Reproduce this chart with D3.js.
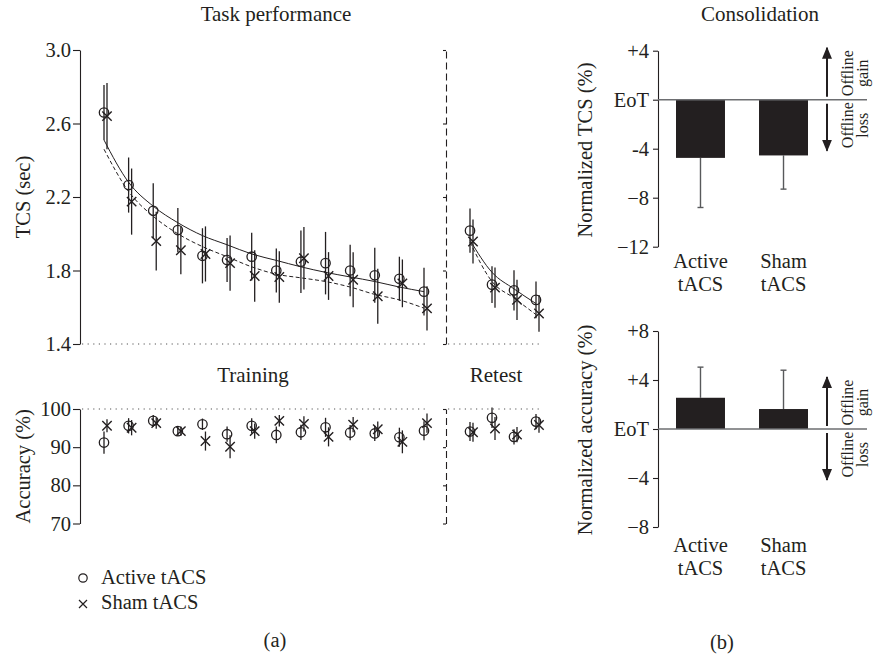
<!DOCTYPE html>
<html>
<head>
<meta charset="utf-8">
<script src="https://cdn.jsdelivr.net/npm/d3@7"></script>
<style>
  body { margin: 0; background: #fff; }
  text { font-family: "Liberation Serif", "Times New Roman", serif; fill: #231f20; }
</style>
</head>
<body>
<div id="chart"></div>
<script>
// ---- data ----
const trainBlocks = [1, 2, 3, 4, 5, 6, 7, 8, 9, 10, 11, 12, 13, 14];
const retestBlocks = [1, 2, 3, 4];
const tcsTicks = [1.4, 1.8, 2.2, 2.6, 3.0];
const accTicks = [70, 80, 90, 100];

const tcsActive = [2.66, 2.265, 2.125, 2.02, 1.88, 1.857, 1.875, 1.80, 1.848, 1.84, 1.80, 1.774, 1.755, 1.685];
const tcsActiveErr = [0.15, 0.15, 0.15, 0.12, 0.15, 0.12, 0.13, 0.12, 0.17, 0.17, 0.14, 0.15, 0.12, 0.13];
const tcsSham = [2.64, 2.175, 1.96, 1.91, 1.89, 1.84, 1.77, 1.765, 1.867, 1.77, 1.75, 1.66, 1.73, 1.594];
const tcsShamErr = [0.18, 0.18, 0.16, 0.13, 0.15, 0.15, 0.14, 0.14, 0.17, 0.13, 0.15, 0.15, 0.13, 0.12];

const tcsRetestActive = [2.017, 1.723, 1.692, 1.64];
const tcsRetestActiveErr = [0.12, 0.10, 0.11, 0.10];
const tcsRetestSham = [1.958, 1.707, 1.64, 1.566];
const tcsRetestShamErr = [0.12, 0.11, 0.11, 0.10];

// fitted curves as drawn
const fitTrainActive = [2.51, 2.28, 2.15, 2.06, 1.99, 1.94, 1.89, 1.855, 1.82, 1.79, 1.765, 1.74, 1.71, 1.685];
const fitTrainSham = [2.46, 2.23, 2.095, 2.0, 1.93, 1.875, 1.82, 1.78, 1.76, 1.74, 1.71, 1.67, 1.64, 1.595];
const fitRetestActive = [1.965, 1.79, 1.70, 1.62];
const fitRetestSham = [1.955, 1.74, 1.65, 1.56];

const accActive = [91.2, 95.6, 96.9, 94.2, 96.0, 93.4, 95.6, 93.2, 93.9, 95.2, 93.8, 93.6, 92.6, 94.3];
const accActiveErr = [2.9, 2.0, 1.5, 1.2, 1.5, 2.0, 2.0, 2.2, 2.0, 2.5, 2.0, 2.0, 2.5, 2.5];
const accSham = [95.6, 95.1, 96.3, 94.2, 91.6, 90.1, 94.2, 96.9, 96.1, 92.7, 95.9, 94.7, 91.4, 96.3];
const accShamErr = [1.7, 2.0, 1.5, 1.2, 2.5, 3.0, 2.0, 1.5, 2.0, 2.5, 2.0, 2.0, 3.0, 2.5];
const accRetestActive = [94.1, 97.7, 92.7, 96.7];
const accRetestActiveErr = [2.5, 2.7, 2.0, 2.0];
const accRetestSham = [93.9, 94.9, 93.3, 95.8];
const accRetestShamErr = [2.5, 3.0, 2.0, 2.0];

const groups = ["Active tACS", "Sham tACS"];
const consTcs = [-4.75, -4.55];
const consTcsErr = [4.05, 2.75];
const consAcc = [2.55, 1.63];
const consAccErr = [2.5, 3.17];
const consTcsTicks = [4, 0, -4, -8, -12];
const consTcsLabels = ["+4", "EoT", "-4", "\u22128", "\u221212"];
const consAccTicks = [8, 4, 0, -4, -8];
const consAccLabels = ["+8", "+4", "EoT", "\u22124", "\u22128"];

// ---- setup ----
const svg = d3.select("#chart").append("svg")
    .attr("width", 874)
    .attr("height", 657);

const FS = 20.5;
const ink = "#231f20";

svg.append("defs").append("marker")
    .attr("id", "arrow")
    .attr("viewBox", "0 0 12 10")
    .attr("refX", 11).attr("refY", 5)
    .attr("markerWidth", 6).attr("markerHeight", 5)
    .attr("markerUnits", "strokeWidth")
    .attr("orient", "auto")
  .append("path")
    .attr("d", "M0,0 L12,5 L0,10 z")
    .attr("fill", ink);

// x scales shared by both left panels
const xTrain = d3.scaleLinear().domain([1, 14]).range([104, 424]);
const xRetest = d3.scaleLinear().domain([1, 4]).range([470, 536]);
const shamShift = 3;

const yTcs = d3.scaleLinear().domain([1.4, 3.0]).range([344, 50]);
const yAcc = d3.scaleLinear().domain([70, 100]).range([523.5, 409]);

function styleAxis(g, dashed) {
  g.selectAll("path.domain").attr("stroke", ink).attr("stroke-width", 1.1)
    .attr("stroke-dasharray", dashed ? "7,4" : null);
  g.selectAll(".tick line").attr("stroke", ink).attr("stroke-width", 1.1);
  g.selectAll(".tick text").attr("font-size", FS).attr("font-family", "Liberation Serif").attr("fill", ink);
}

function dottedLine(g, x1, x2, y) {
  g.append("line")
    .attr("x1", x1).attr("x2", x2).attr("y1", y).attr("y2", y)
    .attr("stroke", "#555").attr("stroke-width", 1.1)
    .attr("stroke-dasharray", "1.2,4.4");
}

// draw errors + markers for one series
function drawSeries(g, xs, blocks, ys, vals, errs, kind, dx) {
  const data = blocks.map((b, i) => ({ b, v: vals[i], e: errs[i] }));
  g.append("g").selectAll("line")
    .data(data)
    .join("line")
      .attr("x1", d => xs(d.b) + dx).attr("x2", d => xs(d.b) + dx)
      .attr("y1", d => ys(d.v + d.e)).attr("y2", d => ys(d.v - d.e))
      .attr("stroke", ink).attr("stroke-width", 1.3);
  if (kind === "circle") {
    g.append("g").selectAll("circle")
      .data(data)
      .join("circle")
        .attr("cx", d => xs(d.b) + dx).attr("cy", d => ys(d.v))
        .attr("r", 4.7)
        .attr("fill", "none").attr("stroke", ink).attr("stroke-width", 1.3);
  } else {
    const s = 4.7;
    g.append("g").selectAll("path")
      .data(data)
      .join("path")
        .attr("d", d => {
          const cx = xs(d.b) + dx, cy = ys(d.v);
          return `M${cx - s},${cy - s}L${cx + s},${cy + s}M${cx - s},${cy + s}L${cx + s},${cy - s}`;
        })
        .attr("fill", "none").attr("stroke", ink).attr("stroke-width", 1.4);
  }
}

function drawFit(g, xs, blocks, ys, vals, dash) {
  const line = d3.line()
      .curve(d3.curveMonotoneX)
      .x((d, i) => xs(blocks[i]))
      .y(d => ys(d));
  g.append("path")
    .attr("d", line(vals))
    .attr("fill", "none").attr("stroke", ink).attr("stroke-width", 1)
    .attr("stroke-dasharray", dash ? "4,2.5" : null);
}

// ---- (a) TCS panel ----
const gT = svg.append("g");

dottedLine(gT, 82, 428, yTcs(1.4));
dottedLine(gT, 448, 542, yTcs(1.4));

gT.append("g")
    .attr("transform", "translate(80,0)")
    .call(d3.axisLeft(yTcs).tickValues(tcsTicks).tickFormat(d3.format(".1f")).tickSize(7).tickSizeOuter(0).tickPadding(2))
    .call(g => styleAxis(g, false));

gT.append("g")
    .attr("transform", "translate(446,0)")
    .call(d3.axisLeft(yTcs).tickValues(tcsTicks).tickFormat("").tickSize(3).tickSizeOuter(0))
    .call(g => styleAxis(g, true));

drawFit(gT, xTrain, trainBlocks, yTcs, fitTrainActive, false);
drawFit(gT, xTrain, trainBlocks, yTcs, fitTrainSham, true);
drawFit(gT, xRetest, retestBlocks, yTcs, fitRetestActive, false);
drawFit(gT, xRetest, retestBlocks, yTcs, fitRetestSham, true);

drawSeries(gT, xTrain, trainBlocks, yTcs, tcsActive, tcsActiveErr, "circle", 0);
drawSeries(gT, xTrain, trainBlocks, yTcs, tcsSham, tcsShamErr, "cross", shamShift);
drawSeries(gT, xRetest, retestBlocks, yTcs, tcsRetestActive, tcsRetestActiveErr, "circle", 0);
drawSeries(gT, xRetest, retestBlocks, yTcs, tcsRetestSham, tcsRetestShamErr, "cross", shamShift);

gT.append("text")
    .attr("x", 276).attr("y", 21)
    .attr("text-anchor", "middle").attr("font-size", 21)
    .text("Task performance");

gT.append("text")
    .attr("transform", `translate(30,${yTcs(2.2)}) rotate(-90)`)
    .attr("text-anchor", "middle").attr("font-size", FS)
    .text("TCS (sec)");

// ---- (a) accuracy panel ----
const gA = svg.append("g");

dottedLine(gA, 82, 428, yAcc(100));
dottedLine(gA, 448, 542, yAcc(100));

gA.append("g")
    .attr("transform", "translate(80,0)")
    .call(d3.axisLeft(yAcc).tickValues(accTicks).tickSize(7).tickSizeOuter(0).tickPadding(2))
    .call(g => styleAxis(g, false));

gA.append("g")
    .attr("transform", "translate(446,0)")
    .call(d3.axisLeft(yAcc).tickValues(accTicks).tickFormat("").tickSize(3).tickSizeOuter(0))
    .call(g => styleAxis(g, true));

drawSeries(gA, xTrain, trainBlocks, yAcc, accActive, accActiveErr, "circle", 0);
drawSeries(gA, xTrain, trainBlocks, yAcc, accSham, accShamErr, "cross", shamShift);
drawSeries(gA, xRetest, retestBlocks, yAcc, accRetestActive, accRetestActiveErr, "circle", 0);
drawSeries(gA, xRetest, retestBlocks, yAcc, accRetestSham, accRetestShamErr, "cross", shamShift);

gA.append("text")
    .attr("x", 253).attr("y", 382)
    .attr("text-anchor", "middle").attr("font-size", 21)
    .text("Training");
gA.append("text")
    .attr("x", 496).attr("y", 382)
    .attr("text-anchor", "middle").attr("font-size", 21)
    .text("Retest");

gA.append("text")
    .attr("transform", `translate(30,${yAcc(85)}) rotate(-90)`)
    .attr("text-anchor", "middle").attr("font-size", FS)
    .text("Accuracy (%)");

// legend
const legend = svg.append("g");
legend.append("circle")
    .attr("cx", 83).attr("cy", 578).attr("r", 4.2)
    .attr("fill", "none").attr("stroke", ink).attr("stroke-width", 1.2);
legend.append("path")
    .attr("d", "M79,600L87,608M79,608L87,600")
    .attr("stroke", ink).attr("stroke-width", 1.2);
legend.append("text").attr("x", 101).attr("y", 584).attr("font-size", FS).text(groups[0]);
legend.append("text").attr("x", 101).attr("y", 609).attr("font-size", FS).text(groups[1]);

svg.append("text")
    .attr("x", 275).attr("y", 647)
    .attr("text-anchor", "middle").attr("font-size", FS)
    .text("(a)");

// ---- (b) consolidation bars ----
const xBar = d3.scaleBand().domain(groups).range([676, 808]).paddingInner(0.41).paddingOuter(0);

function barPanel(yScale, ticks, labels, vals, errs, labelText, labelY, catY) {
  const g = svg.append("g");

  g.append("g")
      .attr("transform", "translate(658,0)")
      .call(d3.axisLeft(yScale).tickValues(ticks).tickFormat((d, i) => labels[i]).tickSize(5).tickSizeOuter(0).tickPadding(4))
      .call(gg => styleAxis(gg, false));

  const data = groups.map((k, i) => ({ k, v: vals[i], e: errs[i] }));

  // error bars (one-sided, away from zero)
  g.append("g").selectAll("line")
    .data(data)
    .join("line")
      .attr("x1", d => xBar(d.k) + xBar.bandwidth() / 2)
      .attr("x2", d => xBar(d.k) + xBar.bandwidth() / 2)
      .attr("y1", d => yScale(d.v))
      .attr("y2", d => yScale(d.v + Math.sign(d.v) * d.e))
      .attr("stroke", "#58595b").attr("stroke-width", 1.4);
  g.append("g").selectAll("line")
    .data(data)
    .join("line")
      .attr("x1", d => xBar(d.k) + xBar.bandwidth() / 2 - 3)
      .attr("x2", d => xBar(d.k) + xBar.bandwidth() / 2 + 3)
      .attr("y1", d => yScale(d.v + Math.sign(d.v) * d.e))
      .attr("y2", d => yScale(d.v + Math.sign(d.v) * d.e))
      .attr("stroke", "#58595b").attr("stroke-width", 1.4);

  g.append("g").selectAll("rect")
    .data(data)
    .join("rect")
      .attr("x", d => xBar(d.k))
      .attr("width", xBar.bandwidth())
      .attr("y", d => Math.min(yScale(d.v), yScale(0)))
      .attr("height", d => Math.abs(yScale(d.v) - yScale(0)))
      .attr("fill", ink);

  // EoT reference line
  g.append("line")
    .attr("x1", 658).attr("x2", 867)
    .attr("y1", yScale(0)).attr("y2", yScale(0))
    .attr("stroke", "#6d6e71").attr("stroke-width", 1.5);

  // gain / loss arrows
  g.append("line")
    .attr("x1", 827).attr("x2", 827)
    .attr("y1", yScale(0) - 3).attr("y2", yScale(4) - 3)
    .attr("stroke", ink).attr("stroke-width", 2)
    .attr("marker-end", "url(#arrow)");
  g.append("line")
    .attr("x1", 827).attr("x2", 827)
    .attr("y1", yScale(0) + 4).attr("y2", yScale(-4) + 2)
    .attr("stroke", ink).attr("stroke-width", 2)
    .attr("marker-end", "url(#arrow)");

  [["Offline", "gain", (yScale(0) + yScale(4)) / 2 - 2], ["Offline", "loss", (yScale(0) + yScale(-4)) / 2 + 1]]
    .forEach(([a, b, cy]) => {
      g.append("text")
        .attr("transform", `translate(853,${cy}) rotate(-90)`)
        .attr("text-anchor", "middle").attr("font-size", 16)
        .text(a);
      g.append("text")
        .attr("transform", `translate(868,${cy}) rotate(-90)`)
        .attr("text-anchor", "middle").attr("font-size", 16)
        .text(b);
    });

  // category labels, two lines each
  const cat = g.append("g").selectAll("text")
    .data(groups)
    .join("text")
      .attr("text-anchor", "middle").attr("font-size", FS)
      .attr("y", catY);
  cat.append("tspan")
      .attr("x", d => xBar(d) + xBar.bandwidth() / 2)
      .text(d => d.split(" ")[0]);
  cat.append("tspan")
      .attr("x", d => xBar(d) + xBar.bandwidth() / 2)
      .attr("dy", 23)
      .text(d => d.split(" ")[1]);

  g.append("text")
    .attr("transform", `translate(592,${labelY}) rotate(-90)`)
    .attr("text-anchor", "middle").attr("font-size", FS)
    .text(labelText);
}

const yConsTcs = d3.scaleLinear().domain([-12, 4]).range([246.7, 50.7]);
const yConsAcc = d3.scaleLinear().domain([-8, 8]).range([527, 331]);

barPanel(yConsTcs, consTcsTicks, consTcsLabels, consTcs, consTcsErr, "Normalized TCS (%)", 150, 268);
barPanel(yConsAcc, consAccTicks, consAccLabels, consAcc, consAccErr, "Normalized accuracy (%)", 430, 552);

svg.append("text")
    .attr("x", 760).attr("y", 21)
    .attr("text-anchor", "middle").attr("font-size", 21)
    .text("Consolidation");

svg.append("text")
    .attr("x", 722).attr("y", 649)
    .attr("text-anchor", "middle").attr("font-size", FS)
    .text("(b)");
</script>
</body>
</html>
